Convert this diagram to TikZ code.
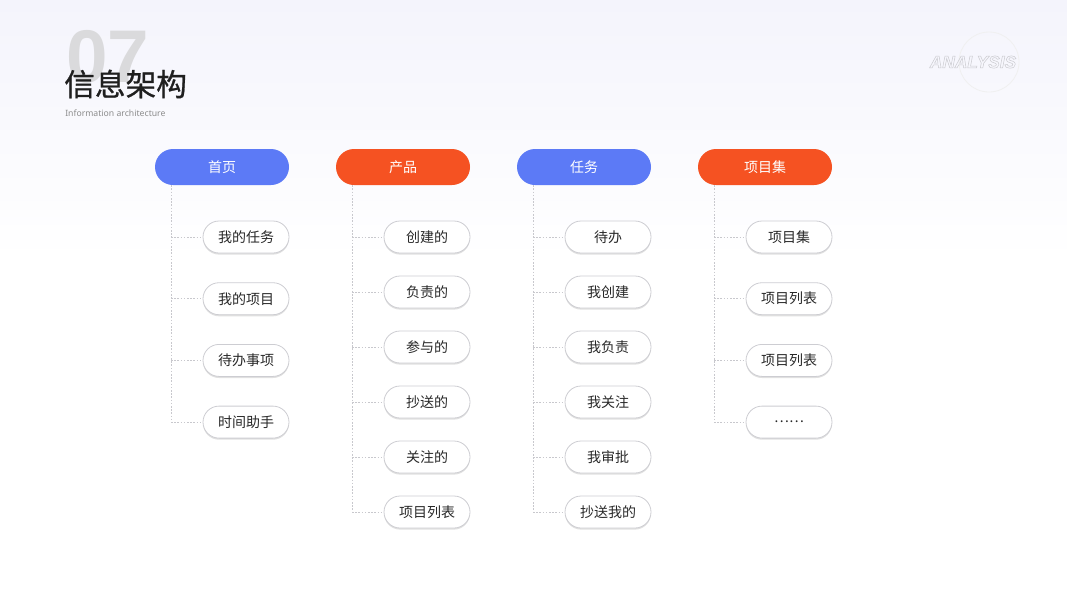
\documentclass[tikz,border=0pt]{standalone}
\usepackage{fontspec}
\setmainfont{Noto Sans}
\newfontfamily\cjk{Noto Sans CJK SC}
\newfontfamily\cjkm{Noto Sans CJK SC}[FakeBold=0.8]
\newfontfamily\lib{Liberation Sans}
\usetikzlibrary{shadows}
\definecolor{hblue}{RGB}{92,122,246}
\definecolor{horange}{RGB}{245,82,34}
\definecolor{pillborder}{RGB}{205,205,210}
\definecolor{linegray}{RGB}{200,200,205}
\definecolor{txt}{RGB}{40,40,40}
\definecolor{bgtop}{RGB}{244,244,252}
\definecolor{numgray}{RGB}{218,218,220}
\tikzset{
  hdr/.style={rounded corners=13.5pt, minimum width=100.5pt, minimum height=27pt, inner sep=0pt, text=white, font=\cjk\fontsize{10.5}{12}\selectfont},
  pill/.style={draw=pillborder, line width=0.6pt, fill=white, rounded corners=12pt, minimum width=64.5pt, minimum height=24pt, inner sep=0pt, text=txt, font=\cjk\fontsize{10.5}{12}\selectfont,
    drop shadow={shadow xshift=0pt, shadow yshift=-1.2pt, opacity=0.12, fill=black}},
  conn/.style={draw=linegray, line width=0.6pt, dash pattern=on 1.2pt off 1.2pt},
}
\begin{document}
\begin{tikzpicture}[x=0.75pt,y=-0.75pt]
\useasboundingbox (0,0) rectangle (1067,600);
\shade[top color=bgtop, bottom color=white] (0,0) rectangle (1067,260);
% title
\node[anchor=base west, text=numgray, font=\lib\bfseries\fontsize{56}{56}\selectfont, inner sep=0pt] (num) at (66,82) {07};
\node[anchor=west, text=black!88, font=\cjkm\fontsize{23}{26}\selectfont, inner sep=0pt] (title) at (64,84) {信息架构};
\node[anchor=west, text=black!45, font=\fontsize{6.5}{8}\selectfont, inner sep=0pt] (sub) at (65,113.5) {Information architecture};
% analysis badge
\draw[black!6, line width=0.6pt] (989,62) circle (30);
\node[font=\lib\bfseries\itshape\fontsize{13}{13}\selectfont, inner sep=0pt] (ana) at (973,62) {\special{pdf:literal direct 1 Tr 0.4 w 0.8 0.8 0.82 RG}ANALYSIS\special{pdf:literal direct 0 Tr}};
% headers
\node[hdr, fill=hblue] (h1) at (222,167) {首页};
\node[hdr, fill=horange] (h2) at (403,167) {产品};
\node[hdr, fill=hblue] (h3) at (584,167) {任务};
\node[hdr, fill=horange] (h4) at (765,167) {项目集};
% column 1
\foreach \t [count=\i] in {我的任务,我的项目,待办事项,时间助手}{
  \node[pill] (a\i) at (246,{237+61.7*(\i-1)}) {\t};
}
% column 2
\foreach \t [count=\i] in {创建的,负责的,参与的,抄送的,关注的,项目列表}{
  \node[pill] (b\i) at (427,{237+55*(\i-1)}) {\t};
}
% column 3
\foreach \t [count=\i] in {待办,我创建,我负责,我关注,我审批,抄送我的}{
  \node[pill] (c\i) at (608,{237+55*(\i-1)}) {\t};
}
% column 4
\foreach \t [count=\i] in {项目集,项目列表,项目列表,……}{
  \node[pill] (d\i) at (789,{237+61.7*(\i-1)}) {\t};
}
% connectors
\coordinate (ja) at (171,422);
\coordinate (jb) at (352,512);
\coordinate (jc) at (533,512);
\coordinate (jd) at (714,422);
\draw[conn] (h1.south -| ja) -- (ja);
\draw[conn] (h2.south -| jb) -- (jb);
\draw[conn] (h3.south -| jc) -- (jc);
\draw[conn] (h4.south -| jd) -- (jd);
\foreach \i in {1,...,4}{\draw[conn] (a\i.west -| ja) -- (a\i.west);}
\foreach \i in {1,...,6}{\draw[conn] (b\i.west -| jb) -- (b\i.west);}
\foreach \i in {1,...,6}{\draw[conn] (c\i.west -| jc) -- (c\i.west);}
\foreach \i in {1,...,4}{\draw[conn] (d\i.west -| jd) -- (d\i.west);}
\end{tikzpicture}
\end{document}
